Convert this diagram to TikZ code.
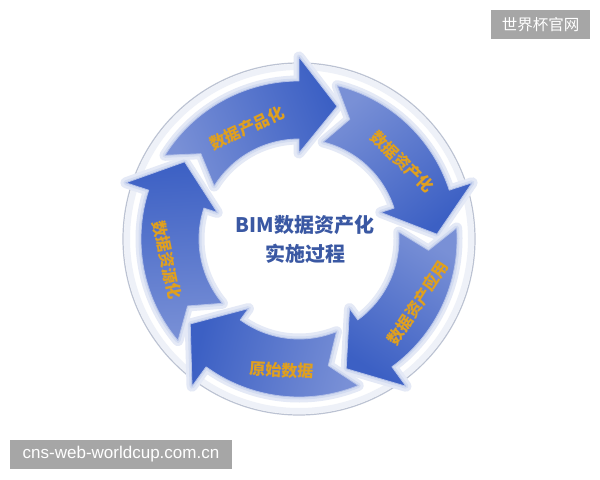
\documentclass[tikz,border=0pt]{standalone}
\usepackage{fontspec}
\newfontfamily\cjk{Noto Sans CJK SC}
\newfontfamily\urlfont{Liberation Sans}
\definecolor{ardark}{HTML}{3C60C4}
\definecolor{arlight}{HTML}{7990D6}
\definecolor{glowc}{HTML}{E4E9F6}
\definecolor{glowd}{HTML}{D3DCF1}
\definecolor{ringline}{HTML}{BCC3D3}
\definecolor{ringglow}{HTML}{EEF1F8}
\definecolor{labelc}{HTML}{E0A01E}
\definecolor{titlec}{HTML}{3A58A3}
\definecolor{wmgray}{HTML}{A6A6A6}
\tikzset{
  glowpath/.style={draw=glowc, line width=11bp, line join=round},
  glowpathb/.style={draw=glowd, line width=5bp, line join=round},
  arrowfill/.style={draw=white!45!arlight, line width=0.8bp, line join=round},
  ringlabel/.style={text=labelc, font=\cjk\bfseries\fontsize{16bp}{19bp}\selectfont, inner sep=0pt},
  titletext/.style={text=titlec, font=\cjk\bfseries\fontsize{20bp}{24bp}\selectfont, inner sep=0pt},
  wmbox/.style={fill=wmgray, draw=none},
  wmtext/.style={text=white, inner sep=0pt}
}
\newcommand\ringarrowpath{(\ta:158bp) arc[start angle=\ta, end angle=\hb, radius=158bp] -- (\hb:182bp) -- (\tt:138bp) -- (\hb:86bp) -- (\hb:100bp) arc[start angle=\hb, end angle=\ta, radius=100bp] -- (\tn:130bp) -- cycle}
\begin{document}
\begin{tikzpicture}[x=1bp,y=-1bp]
\useasboundingbox (0,0) rectangle (600,480);
\fill[white] (0,0) rectangle (600,480);
\begin{scope}[shift={(299,239)}]
  \draw[ringglow, line width=6bp] (0,0) circle[radius=172bp];
  \draw[ringline, line width=1.2bp] (0,0) circle[radius=176bp];
  \foreach \hb in {90,18,-54,-126,162}{
    \pgfmathsetmacro\ta{\hb+58}
    \pgfmathsetmacro\tn{\hb+49}
    \pgfmathsetmacro\tt{\hb-16}
    \path[glowpath] \ringarrowpath;
  }
  \foreach \hb in {90,18,-54,-126,162}{
    \pgfmathsetmacro\ta{\hb+58}
    \pgfmathsetmacro\tn{\hb+49}
    \pgfmathsetmacro\tt{\hb-16}
    \path[glowpathb] \ringarrowpath;
  }
  \foreach \hb in {90,18,-54,-126,162}{
    \pgfmathsetmacro\ta{\hb+58}
    \pgfmathsetmacro\tn{\hb+49}
    \pgfmathsetmacro\tt{\hb-16}
    \pgfmathsetmacro\sa{\hb-159}
    \path[arrowfill, top color=ardark, bottom color=arlight, shading angle=\sa] \ringarrowpath;
  }
\end{scope}
\node[ringlabel, rotate=25] (l1) at (247,128) {数据产品化};
\node[ringlabel, rotate=-44] (l2) at (402,162) {数据资产化};
\node[ringlabel, rotate=57] (l3) at (418,303) {数据资产应用};
\node[ringlabel, rotate=-3] (l4) at (282,370) {原始数据};
\node[ringlabel, rotate=-78] (l5) at (167,260) {数据资源化};
\node[titletext] (t1) at (305,225) {BIM数据资产化};
\node[titletext] (t2) at (305,254) {实施过程};
\fill[wmbox] (491,10) rectangle (590,39);
\node[wmtext, font=\cjk\fontsize{15.5bp}{18bp}\selectfont] (wm1) at (540.5,24.5) {世界杯官网};
\fill[wmbox] (10,440) rectangle (232,469);
\node[wmtext, font=\urlfont\fontsize{17bp}{20bp}\selectfont] (wm2) at (121,454.5) {cns-web-worldcup.com.cn};
\end{tikzpicture}
\end{document}
